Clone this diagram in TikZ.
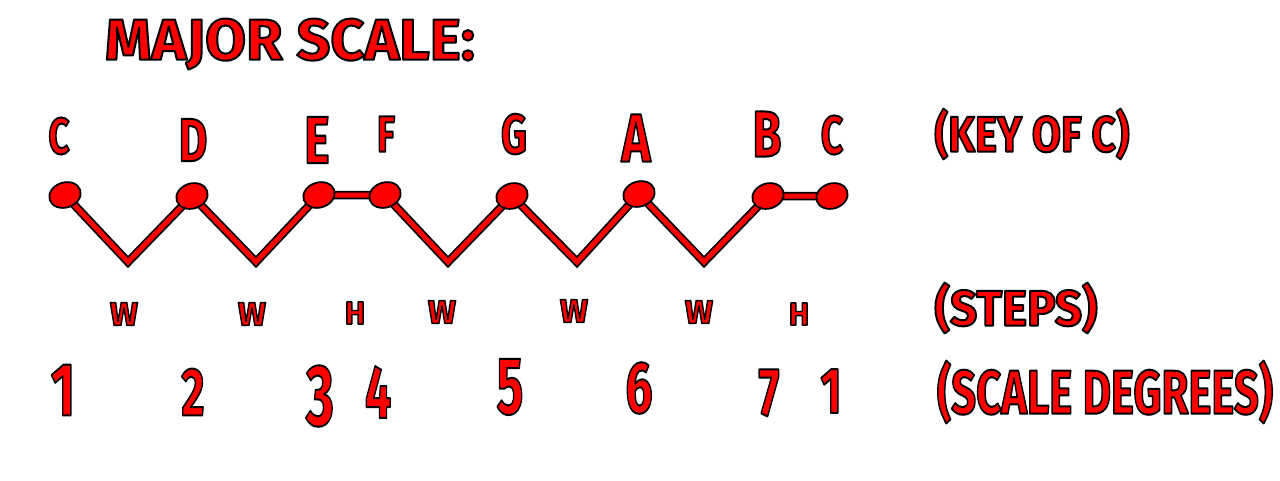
\documentclass[tikz,border=0pt]{standalone}
\usepackage{fontspec}
\setmainfont{Fira Sans}
\usepackage{graphicx}
\usetikzlibrary{shapes.geometric}
% red glyphs with a black outline (fill + stroke text render mode); #1 = outline width
\newcommand\strk[2]{\special{pdf:literal direct 2 Tr 0 0 0 RG #1 w 1 j}#2\special{pdf:literal direct 0 Tr}}
% #1 = horizontal scale, #2 = font size, #3 = text
\newcommand\hx[3]{\scalebox{#1}[1]{\fontsize{#2}{#2}\selectfont\bfseries\strk{2}{#3}}}
\newcommand\hs[3]{\scalebox{#1}[1]{\fontsize{#2}{#2}\selectfont\bfseries\strk{1.4}{#3}}}
% #1 = target width, #2 = font size, #3 = text
\newcommand\hwid[3]{\resizebox{#1}{\height}{\fontsize{#2}{#2}\selectfont\bfseries\strk{2}{#3}}}
\tikzset{
  txt/.style={inner sep=0pt, text=red},
  dot/.style={ellipse, fill=red, draw=black, line width=1.8pt, minimum width=32pt, minimum height=25pt, inner sep=0pt, rotate=18},
  wire/.style={draw=red, line width=5pt, line join=miter, preaction={draw=black, line width=8.5pt, line join=miter}}
}
\begin{document}
\begin{tikzpicture}[x=1pt,y=-1pt]
\useasboundingbox (0,0) rectangle (1280,480);
\fill[white] (0,0) rectangle (1280,480);
% title
\node[txt] (title) at (290,44) {\hwid{370pt}{58pt}{MAJOR SCALE:}};
% right labels
\node[txt] (key) at (1032,134) {\hwid{195pt}{50pt}{(KEY OF C)}};
\node[txt] (steps) at (1016,308) {\hwid{163pt}{50pt}{(STEPS)}};
\node[txt] (degrees) at (1105,392) {\hwid{336pt}{62pt}{(SCALE DEGREES)}};
% valley coordinates
\coordinate (v1) at (128,262);
\coordinate (v2) at (256,262);
\coordinate (v3) at (448,262);
\coordinate (v4) at (577,262);
\coordinate (v5) at (704,262);
% dot positions
\coordinate (pc1) at (65,195);
\coordinate (pd) at (192,196);
\coordinate (pe) at (319,195);
\coordinate (pf) at (385,195);
\coordinate (pg) at (512,196);
\coordinate (pa) at (639,194);
\coordinate (pb) at (768,196);
\coordinate (pc2) at (832,196);
% connectors
\path[wire] (pc1) -- (v1) -- (pd) -- (v2) -- (pe) -- (pf) -- (v3) -- (pg) -- (v4) -- (pa) -- (v5) -- (pb) -- (pc2);
% dots
\node[dot] (c1) at (pc1) {};
\node[dot] (d) at (pd) {};
\node[dot] (e) at (pe) {};
\node[dot] (f) at (pf) {};
\node[dot] (g) at (pg) {};
\node[dot] (a) at (pa) {};
\node[dot] (b) at (pb) {};
\node[dot] (c2) at (pc2) {};
% note names
\node[txt] (nc1) at (59,136) {\hx{0.72}{51pt}{C}};
\node[txt] (nd) at (193,140) {\hx{0.72}{61pt}{D}};
\node[txt] (ne) at (317,140) {\hx{0.72}{67pt}{E}};
\node[txt] (nf) at (386,134) {\hx{0.72}{51pt}{F}};
\node[txt] (ng) at (514,134) {\hx{0.72}{56pt}{G}};
\node[txt] (na) at (636,138) {\hx{0.72}{68pt}{A}};
\node[txt] (nb) at (767,134) {\hx{0.72}{65pt}{B}};
\node[txt] (nc2) at (832,135) {\hx{0.72}{54pt}{C}};
% steps
\node[txt] (s1) at (124,314) {\hs{1.0}{33pt}{W}};
\node[txt] (s2) at (252,314) {\hs{1.0}{33pt}{W}};
\node[txt] (s3) at (355,313) {\hs{0.95}{32pt}{H}};
\node[txt] (s4) at (442,312) {\hs{1.0}{33pt}{W}};
\node[txt] (s5) at (574,311) {\hs{1.0}{33pt}{W}};
\node[txt] (s6) at (699,312) {\hs{1.0}{33pt}{W}};
\node[txt] (s7) at (799,314) {\hs{0.95}{32pt}{H}};
% scale degrees
\node[txt] (g1) at (63,390) {\hx{0.7}{75pt}{1}};
\node[txt] (g2) at (193,392) {\hx{0.66}{68pt}{2}};
\node[txt] (g3) at (320,396) {\hx{0.62}{87pt}{3}};
\node[txt] (g4) at (378,392) {\hx{0.62}{75pt}{4}};
\node[txt] (g5) at (510,387) {\hx{0.62}{81pt}{5}};
\node[txt] (g6) at (639,388) {\hx{0.66}{73pt}{6}};
\node[txt] (g7) at (769,393) {\hx{0.66}{68pt}{7}};
\node[txt] (g8) at (831,391) {\hx{0.7}{65pt}{1}};
\end{tikzpicture}
\end{document}
